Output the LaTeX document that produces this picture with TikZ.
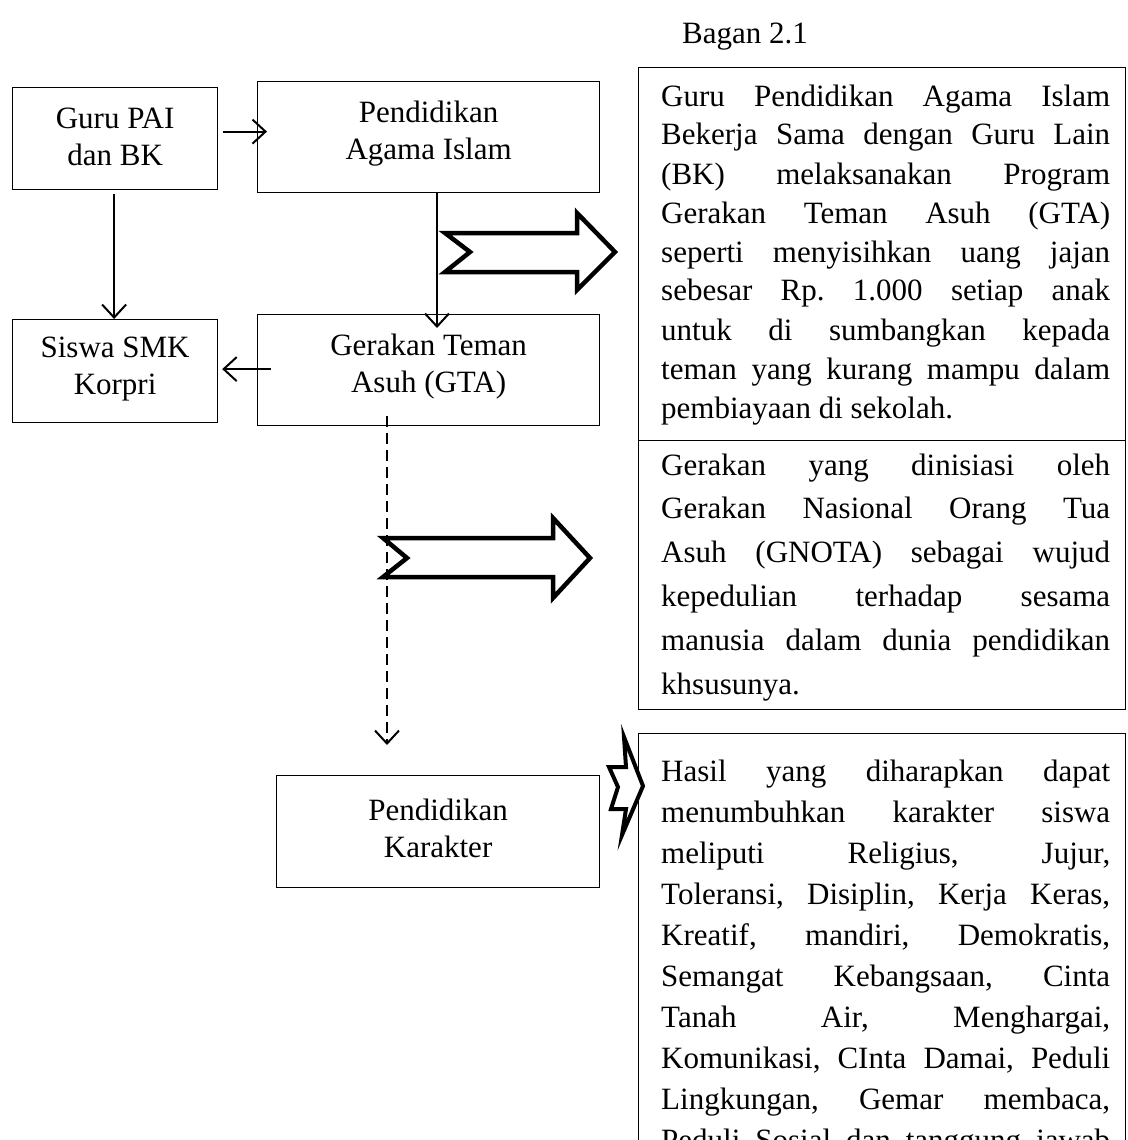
\documentclass[tikz,border=0pt]{standalone}
\usepackage{fontspec}
\setmainfont{Liberation Serif}
\usetikzlibrary{arrows.meta,calc}
\frenchspacing
\newcommand{\jl}[1]{\noindent\makebox[\linewidth][s]{#1}\par}
\newcommand{\lastln}[1]{\noindent #1\par}
\tikzset{
  box/.style={draw, line width=1.2pt, inner sep=0pt, anchor=north west},
  lbl/.style={align=center, inner sep=0pt, font=\fontsize{31}{37}\selectfont},
  conn/.style={line width=2pt, -{Straight Barb[length=13pt,width=24pt,line width=2pt]}},
  dconn/.style={conn, dash pattern=on 11pt off 6pt},
  fat/.style={draw, fill=white, line width=4.5pt, miter limit=10},
  para/.style={inner sep=0pt, anchor=base west},
}
\begin{document}
\begin{tikzpicture}[x=1pt,y=-1pt]
\clip (0,0) rectangle (1127,1140);
\useasboundingbox (0,0) rectangle (1127,1140);
% left column boxes
\node[box, minimum width=205pt, minimum height=102pt] (guru) at (12,87) {};
\node[lbl] (gurut) at ($(guru.center)+(0,-2)$) {Guru PAI\\dan BK};
\node[box, minimum width=342pt, minimum height=111pt] (pai) at (257,81) {};
\node[lbl] (pait) at ($(pai.center)+(0,-4)$) {Pendidikan\\Agama Islam};
\node[box, minimum width=205pt, minimum height=103pt] (siswa) at (12,319) {};
\node[lbl] (siswat) at ($(siswa.center)+(0,-2)$) {Siswa SMK\\Korpri};
\node[box, minimum width=342pt, minimum height=111pt] (gta) at (257,314) {};
\node[lbl] (gtat) at ($(gta.center)+(0,-4)$) {Gerakan Teman\\Asuh (GTA)};
\node[box, minimum width=323pt, minimum height=112pt] (kar) at (276,775) {};
\node[lbl] (kart) at ($(kar.center)+(0,-3)$) {Pendidikan\\Karakter};
% connectors
\coordinate (c1s) at ($(guru.east)+(5,-7)$);
\coordinate (c1e) at ($(pai.west)+(10,-5.5)$);
\draw[conn] (c1s) -- (c1e);
\draw[conn] ($(guru.south)+(-1,4)$) -- ($(siswa.north)+(-1,0)$);
\draw[conn] (pai.south -| 437,0) -- ($(gta.north -| 437,0)+(0,14)$);
\draw[conn] ($(gta.west)+(14,-1)$) -- ($(siswa.east)+(4,-2)$);
\coordinate (dend) at (387,745);
\draw[dconn] ($(gta.south -| 387,0)+(0,-10)$) -- (dend);
% right column boxes
\node[box, minimum width=487pt, minimum height=373pt] (r1) at (638,67) {};
\node[box, minimum width=487pt, minimum height=269pt] (r2) at (638,440) {};
\node[box, minimum width=487pt, minimum height=440pt] (r3) at (638,733) {};
% fat arrows
\draw[fat] (445,233) -- (470,252) -- (445,272) -- (577,272) -- (577,290) -- (615,252) -- (577,213) -- (577,233) -- cycle;
\draw[fat] (383,538) -- (407,558) -- (383,577) -- (553,577) -- (553,598) -- (590,558) -- (553,518) -- (553,538) -- cycle;
\draw[fat, line width=4pt] (609,767) -- (618,787) -- (611,809) -- (626,809) -- (622,835) -- (643,786) -- (624,737) -- (626,767) -- cycle;
% title
\node[para, font=\fontsize{31}{37}\selectfont] (title) at (682,44) {Bagan 2.1};
% paragraph 1
\node[para] (p1) at (661,106) {\parbox[t]{449pt}{\fontsize{31}{39}\selectfont
\jl{Guru Pendidikan Agama Islam}
\jl{Bekerja Sama dengan Guru Lain}
\jl{(BK) melaksanakan Program}
\jl{Gerakan Teman Asuh (GTA)}
\jl{seperti menyisihkan uang jajan}
\jl{sebesar Rp. 1.000 setiap anak}
\jl{untuk di sumbangkan kepada}
\jl{teman yang kurang mampu dalam}
\lastln{pembiayaan di sekolah.}}};
\node[para] (p2) at (661,475) {\parbox[t]{449pt}{\fontsize{31}{43.8}\selectfont
\jl{Gerakan yang dinisiasi oleh}
\jl{Gerakan Nasional Orang Tua}
\jl{Asuh (GNOTA) sebagai wujud}
\jl{kepedulian terhadap sesama}
\jl{manusia dalam dunia pendidikan}
\lastln{khsusunya.}}};
\node[para] (p3) at (661,781) {\parbox[t]{449pt}{\fontsize{31}{41}\selectfont
\jl{Hasil yang diharapkan dapat}
\jl{menumbuhkan karakter siswa}
\jl{meliputi Religius, Jujur,}
\jl{Toleransi, Disiplin, Kerja Keras,}
\jl{Kreatif, mandiri, Demokratis,}
\jl{Semangat Kebangsaan, Cinta}
\jl{Tanah Air, Menghargai,}
\jl{Komunikasi, CInta Damai, Peduli}
\jl{Lingkungan, Gemar membaca,}
\jl{Peduli Sosial dan tanggung jawab}}};
\end{tikzpicture}
\end{document}
